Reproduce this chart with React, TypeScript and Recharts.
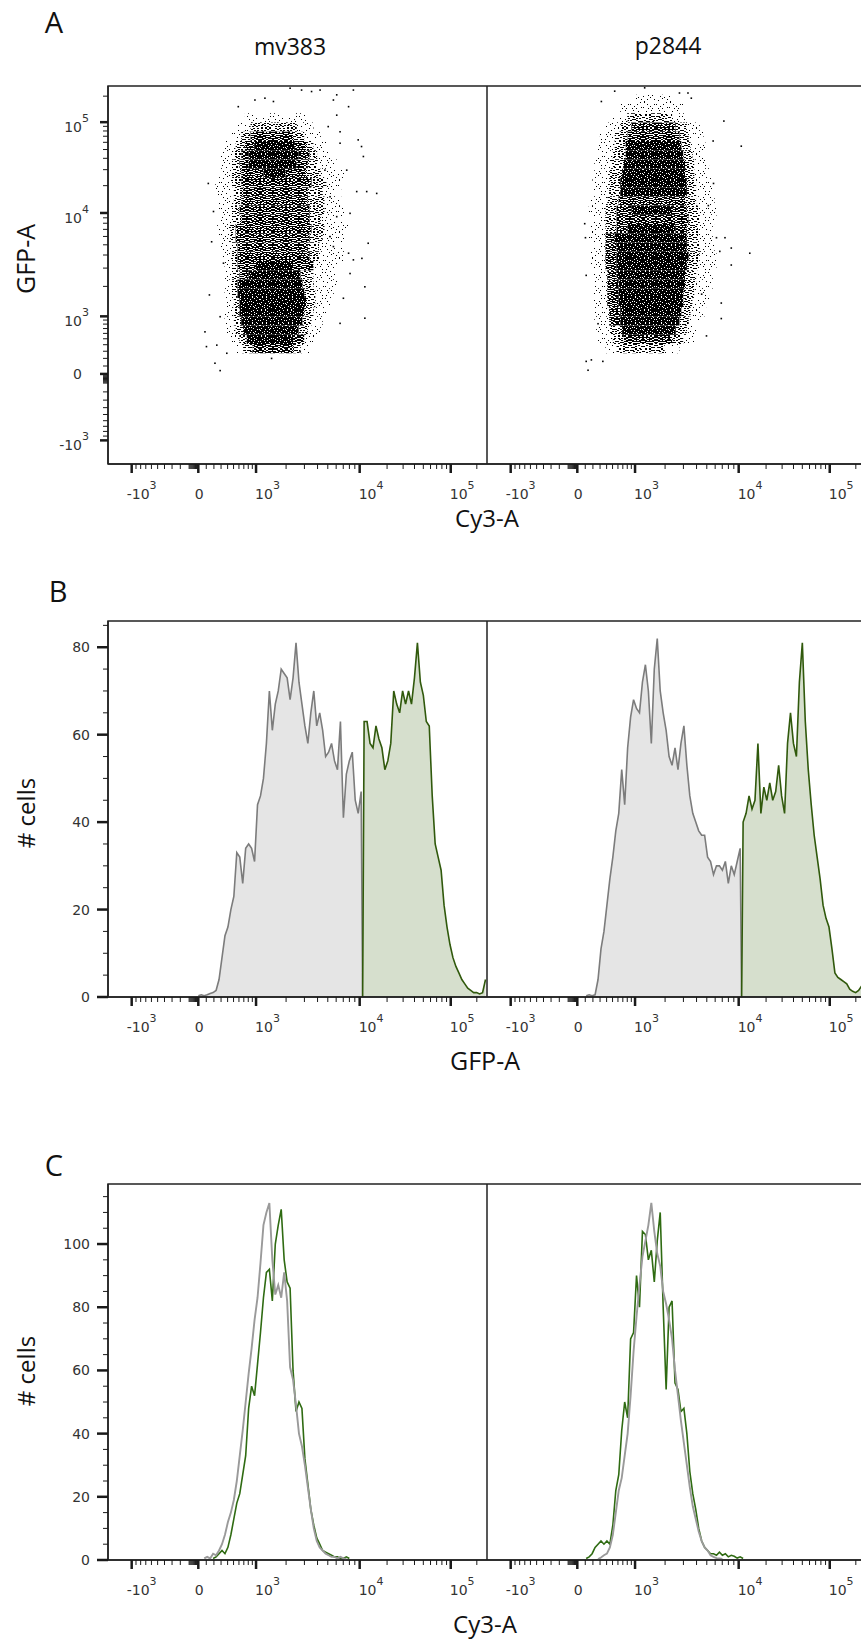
import React from "react";
import {
  ScatterChart,
  Scatter,
  ComposedChart,
  Area,
  Line,
  XAxis,
  YAxis,
  ReferenceArea,
} from "recharts";

// display channels of the biexponential axes (0..1024), 8 channels per histogram bin
const CH_MAX = 1024;
const BIN = 8;
const BAND = 25;

// ---- panel B: GFP-A histograms (counts per bin, gated at 10^4) ----
const mvGfpNegStart = 30;
const mvGfpNeg = [0.3, 0.5, 0.3, 0.5, 0.8, 1, 1.5, 4, 9, 14, 16, 20, 23, 33, 32, 26, 34, 35, 34, 31, 44, 46, 50, 58, 70, 61, 67, 70, 75, 74, 73, 68, 73, 81, 72, 67, 62, 58, 65, 70, 62, 65, 61, 55, 56, 58, 54, 52, 63, 41, 51, 54, 56, 45, 42, 47];
const mvGfpPosStart = 86;
const mvGfpPos = [63, 63, 58, 57, 62, 59, 57, 52, 54, 58, 70, 67, 65, 70, 67, 70, 67, 73, 81, 72, 69, 63, 62, 46, 35, 32, 29, 21, 16, 12, 9, 7, 5.5, 4, 3, 2, 1.5, 1, 1, 0.7, 1, 4];

const pGfpNegStart = 33;
const pGfpNeg = [0.3, 0.5, 0.3, 0.5, 4, 11, 15, 21, 27, 32, 38, 42, 52, 44, 57, 64, 68, 66, 65, 72, 76, 70, 58, 75, 82, 70, 65, 61, 55, 53, 57, 52, 58, 62, 53, 46, 42, 40, 38, 37, 37, 32, 31, 28, 30, 30, 29, 31, 26, 30, 28, 31, 34];
const pGfpPosStart = 86;
const pGfpPos = [40, 42, 46, 43, 45, 58, 42, 48, 45, 49, 45, 47, 53, 46, 42, 58, 65, 58, 55, 72, 81, 63, 52, 44, 37, 32, 27, 21, 18, 16, 11, 5.5, 4.5, 4, 3.5, 3, 1.8, 1.3, 1, 1.5, 2.5, 1.5];

// ---- panel C: Cy3-A histograms of GFP- (gray) and GFP+ (green) cells ----
const mvCy3NegStart = 32;
const mvCy3Neg = [0.5, 1, 0.5, 2, 1.5, 3, 5, 8, 12, 15, 19, 25, 33, 41, 50, 59, 67, 76, 83, 94, 106, 110, 113, 95, 84, 87, 83, 91, 82, 61, 57, 49, 40, 36, 30, 23, 16, 10, 6, 4, 3, 2, 1.5, 1, 1, 0.5, 1, 0.5, 0.3];
const mvCy3PosStart = 35;
const mvCy3Pos = [0.5, 1, 2, 3, 2, 4, 8, 13, 18, 21, 27, 33, 48, 55, 52, 62, 72, 83, 91, 92, 82, 100, 106, 111, 95, 88, 86, 60, 47, 50, 48, 32, 24, 16, 11, 7, 5, 3, 2.5, 2, 1.5, 1, 1, 0.5, 0.5, 1, 0.5];

const pCy3NegStart = 37;
const pCy3Neg = [0.3, 0.8, 1.5, 2, 4, 8, 15, 22, 26, 33, 40, 52, 66, 77, 87, 96, 101, 106, 113, 104, 97, 93, 85, 81, 76, 70, 60, 52, 44, 37, 30, 23, 17, 13, 9, 6, 4, 3, 1.5, 1, 0.6, 0.5, 0.3];
const pCy3PosStart = 33;
const pCy3Pos = [0.5, 1, 2, 4, 5, 6, 5, 6, 5, 11, 22, 27, 41, 50, 45, 70, 72, 90, 80, 104, 103, 95, 98, 88, 101, 110, 80, 54, 80, 82, 56, 54, 47, 48, 40, 28, 21, 16, 10, 6, 4, 3, 2, 2, 1.5, 2.5, 1.5, 2, 1, 1.5, 1.2, 0.6, 1, 0.5];

// ---- panel A: Cy3-A vs GFP-A dot plots ----
// density bands: [GFP channel of band bottom, [[Cy3 from, Cy3 to, density level 1-4], ...]]
type Seg = [number, number, number];
const mvDensity: [number, Seg[]][] = [
  [300, [[340, 365, 1], [365, 390, 2], [390, 500, 3], [500, 520, 2], [520, 545, 1]]],
  [325, [[330, 355, 1], [355, 375, 2], [375, 500, 4], [500, 530, 3], [530, 560, 1]]],
  [350, [[320, 345, 1], [345, 365, 2], [365, 515, 4], [515, 540, 2], [540, 575, 1]]],
  [375, [[315, 340, 1], [340, 360, 2], [360, 525, 4], [525, 550, 2], [550, 580, 1]]],
  [400, [[315, 340, 1], [340, 355, 2], [355, 530, 4], [530, 555, 2], [555, 590, 1]]],
  [425, [[320, 340, 1], [340, 355, 2], [355, 535, 4], [535, 560, 2], [560, 600, 1]]],
  [450, [[315, 335, 1], [335, 350, 2], [350, 530, 4], [530, 560, 2], [560, 610, 1]]],
  [475, [[315, 335, 1], [335, 350, 2], [350, 525, 4], [525, 555, 2], [555, 620, 1]]],
  [500, [[315, 335, 1], [335, 355, 2], [355, 380, 3], [380, 520, 4], [520, 555, 2], [555, 620, 1]]],
  [525, [[315, 335, 1], [335, 350, 2], [350, 400, 3], [400, 500, 4], [500, 555, 3], [555, 620, 1]]],
  [550, [[310, 335, 1], [335, 350, 2], [350, 545, 3], [545, 570, 2], [570, 640, 1]]],
  [575, [[300, 335, 1], [335, 350, 2], [350, 540, 3], [540, 570, 2], [570, 640, 1]]],
  [600, [[300, 330, 1], [330, 345, 2], [345, 545, 3], [545, 580, 2], [580, 640, 1]]],
  [625, [[295, 330, 1], [330, 345, 2], [345, 550, 3], [550, 585, 2], [585, 650, 1]]],
  [650, [[300, 335, 1], [335, 360, 2], [360, 545, 3], [545, 575, 2], [575, 640, 1]]],
  [675, [[300, 335, 1], [335, 355, 2], [355, 545, 3], [545, 585, 2], [585, 640, 1]]],
  [700, [[300, 340, 1], [340, 360, 2], [360, 540, 3], [540, 585, 2], [585, 630, 1]]],
  [725, [[290, 340, 1], [340, 365, 2], [365, 540, 3], [540, 580, 2], [580, 630, 1]]],
  [750, [[290, 335, 1], [335, 360, 2], [360, 550, 3], [550, 590, 2], [590, 630, 1]]],
  [775, [[300, 335, 1], [335, 360, 2], [360, 420, 3], [420, 480, 4], [480, 535, 3], [535, 575, 2], [575, 640, 1]]],
  [800, [[300, 335, 1], [335, 355, 2], [355, 380, 3], [380, 510, 4], [510, 540, 3], [540, 565, 2], [565, 620, 1]]],
  [825, [[305, 340, 1], [340, 360, 2], [360, 380, 3], [380, 515, 4], [515, 545, 3], [545, 565, 2], [565, 600, 1]]],
  [850, [[315, 345, 1], [345, 370, 2], [370, 395, 3], [395, 505, 4], [505, 535, 3], [535, 555, 2], [555, 590, 1]]],
  [875, [[330, 360, 1], [360, 385, 2], [385, 500, 3], [500, 530, 2], [530, 575, 1]]],
  [900, [[350, 385, 1], [385, 510, 2], [510, 555, 1]]],
  [925, [[370, 540, 1]]],
];
const mvOutliers: [number, number][] = [
  [492, 1018], [523, 1013], [550, 1009], [573, 1013], [618, 1000], [663, 1013], [397, 986], [424, 991],
  [447, 982], [609, 986], [650, 968], [352, 968], [676, 878], [685, 860], [690, 833], [672, 738],
  [699, 738], [726, 733], [703, 598], [686, 557], [694, 480], [636, 449], [627, 381], [694, 395],
  [654, 516], [663, 553], [271, 760], [285, 684], [280, 602], [312, 544], [274, 458], [303, 399],
  [262, 358], [266, 318], [294, 322], [321, 300], [289, 273], [303, 253], [442, 286], [519, 304],
  [609, 589], [618, 670], [600, 724], [586, 796], [645, 796], [627, 869], [627, 900], [595, 914],
  [618, 945], [654, 679], [600, 616], [650, 571],
];

const pDensity: [number, Seg[]][] = [
  [300, [[320, 350, 1], [350, 480, 2], [480, 520, 1]]],
  [325, [[300, 340, 1], [340, 370, 2], [370, 500, 3], [500, 530, 2], [530, 560, 1]]],
  [350, [[295, 335, 1], [335, 365, 2], [365, 510, 4], [510, 540, 2], [540, 570, 1]]],
  [375, [[290, 330, 1], [330, 360, 3], [360, 520, 4], [520, 545, 2], [545, 580, 1]]],
  [400, [[290, 330, 1], [330, 360, 3], [360, 525, 4], [525, 550, 2], [550, 590, 1]]],
  [425, [[285, 325, 1], [325, 355, 3], [355, 530, 4], [530, 555, 2], [555, 600, 1]]],
  [450, [[285, 325, 1], [325, 355, 3], [355, 530, 4], [530, 560, 2], [560, 600, 1]]],
  [475, [[290, 325, 1], [325, 355, 3], [355, 535, 4], [535, 565, 2], [565, 610, 1]]],
  [500, [[285, 325, 1], [325, 350, 3], [350, 535, 4], [535, 565, 2], [565, 610, 1]]],
  [525, [[280, 320, 1], [320, 350, 3], [350, 540, 4], [540, 570, 2], [570, 620, 1]]],
  [550, [[280, 320, 1], [320, 350, 3], [350, 545, 4], [545, 575, 2], [575, 620, 1]]],
  [575, [[275, 320, 1], [320, 350, 3], [350, 540, 4], [540, 575, 2], [575, 615, 1]]],
  [600, [[275, 320, 1], [320, 345, 3], [345, 540, 4], [540, 570, 2], [570, 610, 1]]],
  [625, [[280, 320, 1], [320, 350, 2], [350, 380, 3], [380, 510, 4], [510, 540, 3], [540, 570, 2], [570, 610, 1]]],
  [650, [[275, 320, 1], [320, 350, 2], [350, 545, 3], [545, 575, 2], [575, 620, 1]]],
  [675, [[275, 320, 1], [320, 350, 2], [350, 390, 3], [390, 500, 4], [500, 540, 3], [540, 570, 2], [570, 620, 1]]],
  [700, [[280, 325, 1], [325, 355, 2], [355, 535, 3], [535, 565, 2], [565, 615, 1]]],
  [725, [[280, 330, 1], [330, 360, 2], [360, 540, 4], [540, 565, 2], [565, 610, 1]]],
  [750, [[285, 330, 1], [330, 360, 2], [360, 540, 4], [540, 565, 2], [565, 605, 1]]],
  [775, [[290, 330, 1], [330, 365, 2], [365, 535, 4], [535, 560, 2], [560, 600, 1]]],
  [800, [[290, 335, 1], [335, 370, 2], [370, 535, 4], [535, 560, 2], [560, 600, 1]]],
  [825, [[295, 340, 1], [340, 375, 2], [375, 530, 4], [530, 555, 2], [555, 590, 1]]],
  [850, [[300, 345, 1], [345, 375, 2], [375, 525, 4], [525, 550, 2], [550, 590, 1]]],
  [875, [[305, 345, 1], [345, 380, 2], [380, 520, 3], [520, 545, 2], [545, 585, 1]]],
  [900, [[320, 360, 1], [360, 390, 2], [390, 510, 3], [510, 540, 2], [540, 575, 1]]],
  [925, [[340, 380, 1], [380, 500, 2], [500, 540, 1]]],
  [950, [[360, 530, 1]]],
  [975, [[400, 500, 1]]],
];
const pOutliers: [number, number][] = [
  [687, 861], [710, 571], [660, 539], [640, 929], [643, 613], [633, 394], [633, 436], [593, 347],
  [268, 278], [273, 254], [282, 282], [313, 278], [309, 982], [345, 1010], [426, 1019], [520, 1005],
  [543, 1005], [552, 991], [611, 875], [620, 613], [660, 585], [629, 576], [598, 700], [612, 760],
  [264, 651], [266, 613], [268, 511], [300, 380], [580, 460],
];

// ---- biexponential display scale ----
const asinhL = (v: number) => Math.asinh(v / 500) / Math.LN10;
const anchorValues = [-1000, 0, 1000, 10000, 100000, 262144];
const anchorChannels = [64, 244, 400, 680, 926, 1024];
const anchorL = anchorValues.map(asinhL);

function toChannel(v: number) {
  const l = asinhL(v);
  let i = 0;
  while (i < anchorL.length - 2 && l > anchorL[i + 1]) i++;
  const t = (l - anchorL[i]) / (anchorL[i + 1] - anchorL[i]);
  return anchorChannels[i] + t * (anchorChannels[i + 1] - anchorChannels[i]);
}

const biexMajors = [
  { v: -1000, text: "-10", exp: "3" },
  { v: 0, text: "0", exp: "" },
  { v: 1000, text: "10", exp: "3" },
  { v: 10000, text: "10", exp: "4" },
  { v: 100000, text: "10", exp: "5" },
];
const biexMinors = [
  -900, -800, -700, -600, -500, -400, -300, -200, -100,
  -90, -80, -70, -60, -50, -40, -30, -20, -10,
  100, 200, 300, 400, 500, 600, 700, 800, 900,
  2000, 3000, 4000, 5000, 6000, 7000, 8000, 9000,
  20000, 30000, 40000, 50000, 60000, 70000, 80000, 90000,
  200000,
];

type TickInfo = { major: boolean; text: string; exp: string };
const biexInfo = new Map<number, TickInfo>();
biexMajors.forEach((t) => biexInfo.set(toChannel(t.v), { major: true, text: t.text, exp: t.exp }));
biexMinors.forEach((v) => biexInfo.set(toChannel(v), { major: false, text: "", exp: "" }));
const biexTicks = [...biexInfo.keys()].sort((a, b) => a - b);

const gfpCountTicks = [0, 5, 10, 15, 20, 25, 30, 35, 40, 45, 50, 55, 60, 65, 70, 75, 80, 85];
const cy3CountTicks = [0, 5, 10, 15, 20, 25, 30, 35, 40, 45, 50, 55, 60, 65, 70, 75, 80, 85, 90, 95, 100, 105, 110, 115];

// ---- table builders ----
type Row = { ch: number; neg?: number; pos?: number };

function gateRows(negStart: number, neg: number[], posStart: number, pos: number[]) {
  const rows: Row[] = neg.map((c, i) => ({ ch: (negStart + i) * BIN + BIN / 2, neg: c }));
  rows.push({ ch: posStart * BIN, neg: 0, pos: 0 });
  pos.forEach((c, i) => rows.push({ ch: (posStart + i) * BIN + BIN / 2, pos: c }));
  return rows;
}

function overlayRows(negStart: number, neg: number[], posStart: number, pos: number[]) {
  const lo = Math.min(negStart, posStart);
  const hi = Math.max(negStart + neg.length, posStart + pos.length);
  const rows: Row[] = [];
  for (let b = lo; b < hi; b++) {
    rows.push({ ch: b * BIN + BIN / 2, neg: neg[b - negStart], pos: pos[b - posStart] });
  }
  return rows;
}

// ---- styles ----
const INK = "#1a1a1a";
const tickFont = { fontFamily: "'DejaVu Sans', Verdana, sans-serif", fontSize: 14, fill: "#333" };
const SUP = 11;
const titleFont = "'Open Sans', 'Noto Sans', sans-serif";
const axisLine = { stroke: "#222", strokeWidth: 1.5 };

// speckle texture for the dot-plot density bands (26px tile made of 4 mirrored 13px quarters)
const TILE = 13;
const SPECKLE: [number, number][] = [
  [1, 0], [7, 4], [3, 9], [10, 11], [11, 2], [5, 6], [0, 5], [8, 8],
  [4, 2], [9, 6], [2, 12], [6, 10], [11, 9], [1, 7], [7, 1], [4, 4],
  [9, 3], [2, 3], [6, 12], [10, 7],
  [5, 0], [0, 10], [8, 11], [3, 6], [11, 5], [6, 8], [1, 2], [9, 0],
  [4, 11], [7, 6], [2, 9], [10, 4], [5, 3], [0, 8], [8, 2], [3, 1],
  [11, 12], [6, 5], [9, 10], [4, 7],
];
function speckles(n: number): [number, number][] {
  return SPECKLE.slice(0, n).flatMap(([x, y]) => [
    [x, y],
    [2 * TILE - 2 - x, y],
    [x, 2 * TILE - 1 - y],
    [TILE + y, TILE + x],
  ] as [number, number][]);
}

function SpecklePatterns() {
  const tile = { width: 2 * TILE, height: 2 * TILE, patternUnits: "userSpaceOnUse" as const };
  return (
    <svg width={0} height={0} style={{ position: "absolute" }}>
      <defs>
        <pattern id="speckle1" {...tile}>
          {speckles(10).map(([x, y], i) => <rect key={i} x={x} y={y} width={1} height={1} fill="#000" />)}
        </pattern>
        <pattern id="speckle2" {...tile}>
          {speckles(28).map(([x, y], i) => <rect key={i} x={x} y={y} width={2} height={1} fill="#000" />)}
        </pattern>
        <pattern id="speckle3" {...tile}>
          <rect width={2 * TILE} height={2 * TILE} fill="#000" />
          {speckles(30).map(([x, y], i) => <rect key={i} x={x} y={y} width={2} height={1} fill="#fff" />)}
        </pattern>
        <pattern id="speckle4" {...tile}>
          <rect width={2 * TILE} height={2 * TILE} fill="#000" />
          {speckles(22).map(([x, y], i) => <rect key={i} x={x} y={y} width={1} height={1} fill="#fff" />)}
        </pattern>
      </defs>
    </svg>
  );
}

// ---- ticks ----
function BiexXTick(props: any) {
  const { x, y, payload } = props;
  const info = biexInfo.get(payload.value);
  if (!info) return null;
  const zero = info.text === "0";
  return (
    <g>
      <line x1={x} x2={x} y1={y} y2={y + (info.major ? 9 : 5)} stroke={INK} strokeWidth={info.major ? 2.5 : 1} />
      {info.text !== "" && (
        <text
          x={zero ? x + 1 : info.text[0] === "-" ? x - 5 : x - 1}
          y={y + 35}
          textAnchor={zero ? "middle" : "start"}
          {...tickFont}
        >
          {info.text}
          {info.exp !== "" && <tspan dy={-10} fontSize={SUP}>{info.exp}</tspan>}
        </text>
      )}
    </g>
  );
}

function BiexYTick(props: any) {
  const { x, y, payload } = props;
  const info = biexInfo.get(payload.value);
  if (!info) return null;
  const len = info.major ? 8 : 5;
  return (
    <g>
      <line x1={x - len} x2={x} y1={y} y2={y} stroke={INK} strokeWidth={info.major ? 2.5 : 1} />
      {info.text === "0" && (
        <text x={x - 26} y={y + 5} textAnchor="end" {...tickFont}>0</text>
      )}
      {info.text !== "" && info.text !== "0" && (
        <text x={x - 19} y={y + 10} textAnchor="end" {...tickFont}>
          {info.text}
          <tspan dy={-10} fontSize={SUP}>{info.exp}</tspan>
        </text>
      )}
    </g>
  );
}

function CountTick(props: any) {
  const { x, y, payload } = props;
  const major = payload.value % 20 === 0;
  return (
    <g>
      <line x1={x - (major ? 11 : 5)} x2={x} y1={y} y2={y} stroke={INK} strokeWidth={major ? 2.5 : 1} />
      {major && (
        <text x={x - 18} y={y + 5} textAnchor="end" {...tickFont}>{payload.value}</text>
      )}
    </g>
  );
}

const Speck = (p: any) => <rect x={p.cx - 0.8} y={p.cy - 0.8} width={1.6} height={1.6} fill="#000" />;

// ---- plots ----
const LEFT_W = 487;
const RIGHT_W = 379;
const Y_AXIS_W = 108;
const X_AXIS_H = 50;
const TOP_PAD = 10;

function DotPlot({ left, plotTop, showY, density, outliers }: {
  left: number; plotTop: number; showY: boolean; density: [number, Seg[]][]; outliers: [number, number][];
}) {
  const points = outliers.map(([x, y]) => ({ x, y }));
  return (
    <div style={{ position: "absolute", left, top: plotTop - TOP_PAD }}>
      <ScatterChart
        width={showY ? LEFT_W : RIGHT_W}
        height={TOP_PAD + 378 + X_AXIS_H}
        margin={{ top: TOP_PAD, right: 0, bottom: 0, left: 0 }}
      >
        <XAxis type="number" dataKey="x" domain={[0, CH_MAX]} ticks={biexTicks} interval={0}
          tick={<BiexXTick />} tickLine={false} tickSize={0} tickMargin={0} height={X_AXIS_H}
          axisLine={axisLine} allowDataOverflow />
        <YAxis type="number" dataKey="y" domain={[0, CH_MAX]} ticks={biexTicks} interval={0}
          tick={<BiexYTick />} tickLine={false} tickSize={0} tickMargin={0} width={Y_AXIS_W}
          axisLine={axisLine} hide={!showY} allowDataOverflow />
        {density.flatMap(([lo, segs], r) =>
          segs.map(([x1, x2, lvl], k) => (
            <ReferenceArea key={`d${r}-${k}`} x1={x1} x2={x2} y1={lo} y2={lo + BAND}
              fill={`url(#speckle${lvl})`} fillOpacity={1} stroke="none" />
          ))
        )}
        <Scatter data={points} shape={Speck} isAnimationActive={false} />
        <ReferenceArea x1={0} x2={CH_MAX} y1={0} y2={CH_MAX} fill="none" stroke="#222" strokeWidth={1.5} />
      </ScatterChart>
    </div>
  );
}

function HistPlot({ left, plotTop, showY, rows, yMax, yTicks, filled }: {
  left: number; plotTop: number; showY: boolean; rows: Row[]; yMax: number; yTicks: number[]; filled: boolean;
}) {
  return (
    <div style={{ position: "absolute", left, top: plotTop - TOP_PAD }}>
      <ComposedChart
        width={showY ? LEFT_W : RIGHT_W}
        height={TOP_PAD + 376 + X_AXIS_H}
        data={rows}
        margin={{ top: TOP_PAD, right: 0, bottom: 0, left: 0 }}
      >
        <XAxis type="number" dataKey="ch" domain={[0, CH_MAX]} ticks={biexTicks} interval={0}
          tick={<BiexXTick />} tickLine={false} tickSize={0} tickMargin={0} height={X_AXIS_H}
          axisLine={axisLine} allowDataOverflow />
        <YAxis type="number" domain={[0, yMax]} ticks={yTicks} interval={0}
          tick={<CountTick />} tickLine={false} tickSize={0} tickMargin={0} width={Y_AXIS_W}
          axisLine={axisLine} hide={!showY} allowDataOverflow />
        {filled ? (
          <>
            <Area type="linear" dataKey="neg" stroke="#7c7c7c" strokeWidth={1.6} fill="#e5e5e5"
              fillOpacity={1} dot={false} activeDot={false} isAnimationActive={false} />
            <Area type="linear" dataKey="pos" stroke="#30590c" strokeWidth={1.6} fill="#d6dfcd"
              fillOpacity={1} dot={false} activeDot={false} isAnimationActive={false} />
          </>
        ) : (
          <>
            <Line type="linear" dataKey="pos" stroke="#2f6b12" strokeWidth={1.6} dot={false}
              activeDot={false} isAnimationActive={false} />
            <Line type="linear" dataKey="neg" stroke="#9a9a9a" strokeWidth={1.9} dot={false}
              activeDot={false} isAnimationActive={false} />
          </>
        )}
        <ReferenceArea x1={0} x2={CH_MAX} y1={0} y2={yMax} fill="none" stroke="#222" strokeWidth={1.5} />
      </ComposedChart>
    </div>
  );
}

function Caption({ text, x, y, size, rotate = false }: {
  text: string; x: number; y: number; size: number; rotate?: boolean;
}) {
  return (
    <div
      style={{
        position: "absolute",
        left: x,
        top: y,
        fontFamily: titleFont,
        fontSize: size,
        lineHeight: 1,
        whiteSpace: "nowrap",
        color: "#111",
        transform: `translate(-50%, -50%)${rotate ? " rotate(-90deg)" : ""}`,
      }}
    >
      {text}
    </div>
  );
}

export default function App() {
  const mvGate = gateRows(mvGfpNegStart, mvGfpNeg, mvGfpPosStart, mvGfpPos);
  const pGate = gateRows(pGfpNegStart, pGfpNeg, pGfpPosStart, pGfpPos);
  const mvCy3 = overlayRows(mvCy3NegStart, mvCy3Neg, mvCy3PosStart, mvCy3Pos);
  const pCy3 = overlayRows(pCy3NegStart, pCy3Neg, pCy3PosStart, pCy3Pos);

  return (
    <div style={{ position: "absolute", left: 0, top: 0, width: 861, height: 1642, overflow: "hidden", background: "#fff" }}>
      <SpecklePatterns />

      {/* A */}
      <Caption text="A" x={54} y={21} size={29} />
      <Caption text="mv383" x={290} y={46} size={23} />
      <Caption text="p2844" x={668} y={45} size={23} />
      <Caption text="GFP-A" x={25} y={259} size={25} rotate />
      <DotPlot left={0} plotTop={86} showY density={mvDensity} outliers={mvOutliers} />
      <DotPlot left={LEFT_W} plotTop={86} showY={false} density={pDensity} outliers={pOutliers} />
      <Caption text="Cy3-A" x={487} y={518} size={24} />

      {/* B */}
      <Caption text="B" x={58} y={590} size={29} />
      <Caption text="# cells" x={26} y={813} size={24} rotate />
      <HistPlot left={0} plotTop={621} showY rows={mvGate} yMax={86} yTicks={gfpCountTicks} filled />
      <HistPlot left={LEFT_W} plotTop={621} showY={false} rows={pGate} yMax={86} yTicks={gfpCountTicks} filled />
      <Caption text="GFP-A" x={485} y={1060} size={25} />

      {/* C */}
      <Caption text="C" x={54} y={1164} size={29} />
      <Caption text="# cells" x={26} y={1371} size={24} rotate />
      <HistPlot left={0} plotTop={1184} showY rows={mvCy3} yMax={119} yTicks={cy3CountTicks} filled={false} />
      <HistPlot left={LEFT_W} plotTop={1184} showY={false} rows={pCy3} yMax={119} yTicks={cy3CountTicks} filled={false} />
      <Caption text="Cy3-A" x={485} y={1624} size={24} />
    </div>
  );
}
